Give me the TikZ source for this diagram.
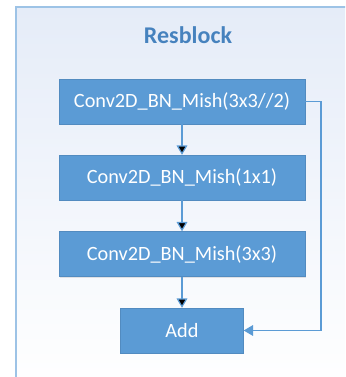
\documentclass[tikz,border=0pt]{standalone}
\usepackage{fontspec}
\setmainfont{Carlito}
\usetikzlibrary{arrows.meta,shadows}
\definecolor{boxblue}{RGB}{91,155,213}
\definecolor{framelin}{RGB}{157,195,230}
\definecolor{titleblue}{RGB}{70,130,190}
\definecolor{frametop}{RGB}{229,236,248}
\begin{document}
\begin{tikzpicture}[x=0.75pt, y=-0.75pt,
    layer/.style={rectangle, fill=boxblue, draw=boxblue!90!black, line width=0.3pt,
      text=white, font=\fontsize{15.2}{18}\selectfont, minimum height=33.75pt,
      drop shadow={opacity=0.2, shadow xshift=0.6pt, shadow yshift=-0.8pt}},
    flow/.style={draw=boxblue, line width=0.9pt, -{Triangle[length=7pt, width=8pt]}}]
  \useasboundingbox (0,0) rectangle (345,377);
  \begin{scope}
    \clip (0,0) rectangle (345,377);
    \shade[top color=frametop, bottom color=white] (16,7) rectangle (360,390);
    \draw[framelin, line width=1.2pt] (16,390) -- (16,7) -- (360,7);
  \end{scope}
  \node (title) at (188,35) [text=titleblue, font=\fontsize{18}{22}\selectfont\bfseries] {Resblock};
  \node (1) at (182,101.5) [layer, minimum width=184.5pt] {Conv2D\_BN\_Mish(3x3//2)};
  \node (2) at (182,177.5) [layer, minimum width=184.5pt] {Conv2D\_BN\_Mish(1x1)};
  \node (3) at (182,254) [layer, minimum width=184.5pt] {Conv2D\_BN\_Mish(3x3)};
  \node (4) at (182,330.5) [layer, minimum width=92.25pt] {Add};
  \coordinate (skip) at (321,101.5);
  \foreach \source/\dest in {1/2, 2/3, 3/4}
    \path[flow] (\source) edge (\dest);
  \draw[flow] (1.east) -- (skip) |- (4.east);
\end{tikzpicture}
\end{document}
